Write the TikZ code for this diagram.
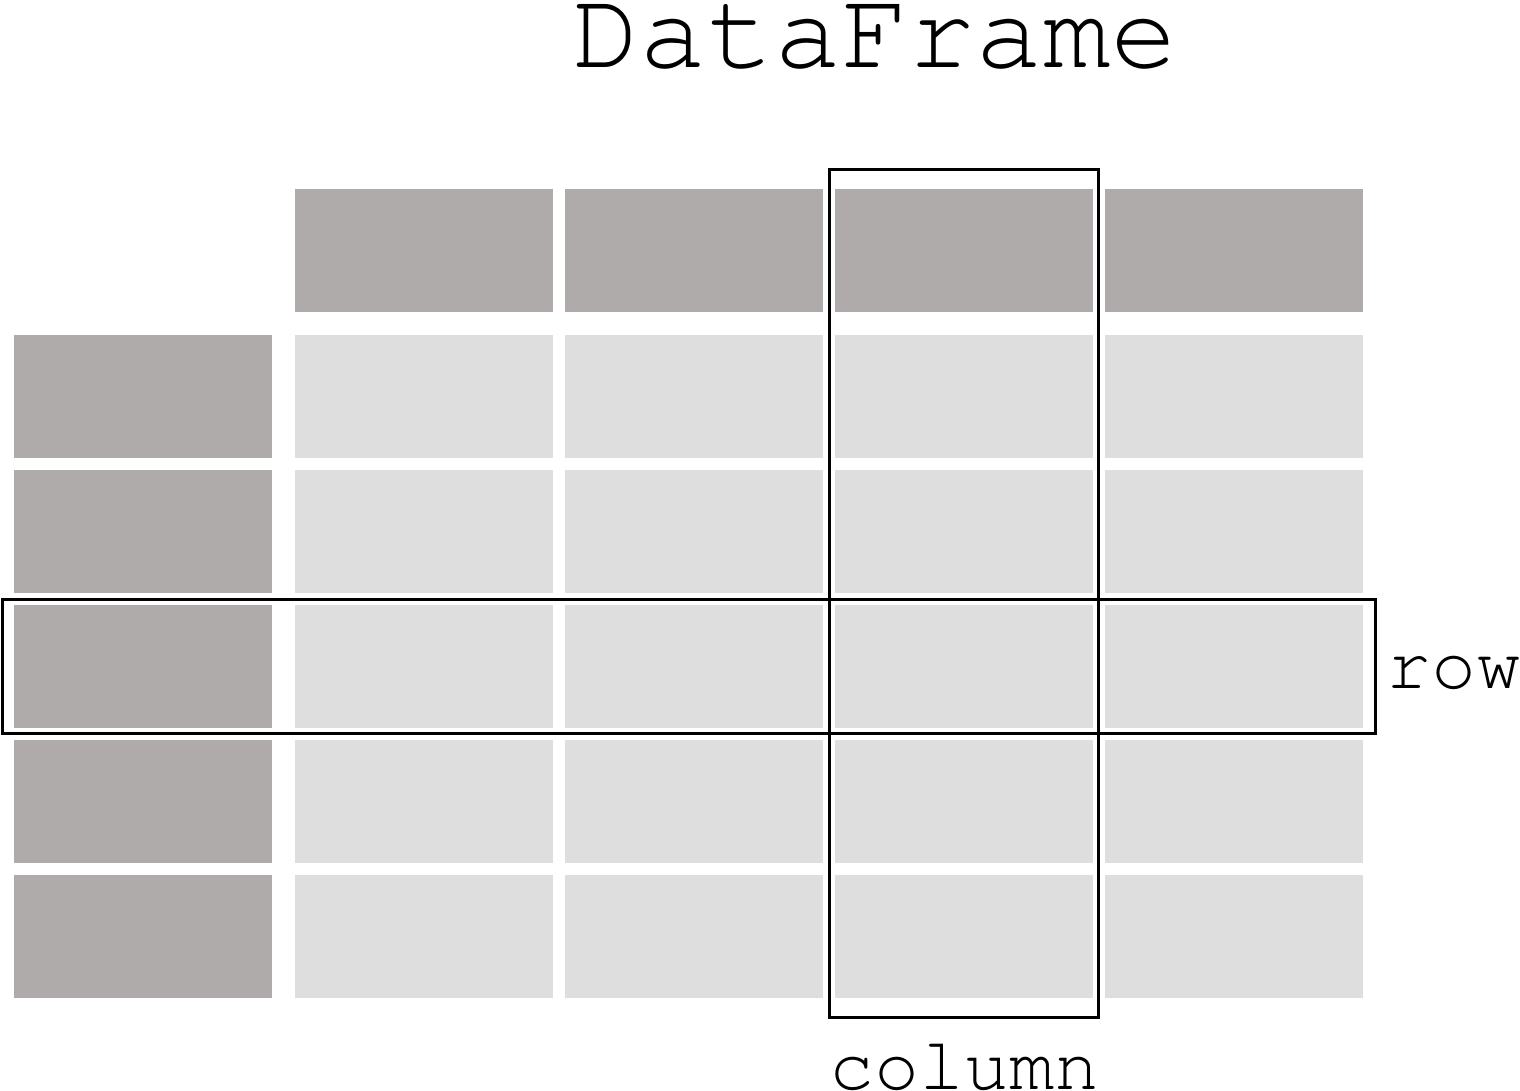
\documentclass[tikz,border=0pt]{standalone}
\usepackage{fontspec}
\setmonofont{TeX Gyre Cursor}
\definecolor{hdr}{RGB}{175,171,170}
\definecolor{cell}{RGB}{222,222,222}
\tikzset{
  base cell/.style={anchor=north west, inner sep=0pt, outer sep=0pt,
    minimum width=258pt, minimum height=123pt},
  hdrcell/.style={base cell, fill=hdr},
  datacell/.style={base cell, fill=cell},
  selbox/.style={draw=black, line width=3pt},
  lbl/.style={font=\ttfamily, inner sep=0pt, text=black}
}
\begin{document}
\begin{tikzpicture}[x=1pt,y=-1pt]
\useasboundingbox (0,0) rectangle (1520,1091);
% column headers
\foreach \c/\x in {1/295,2/565,3/835,4/1105}
  \node[hdrcell] (h\c) at (\x,189) {};
% rows
\foreach \r/\y in {1/335,2/470,3/605,4/740,5/875}{
  \node[hdrcell] (i\r) at (14,\y) {};
  \foreach \c/\x in {1/295,2/565,3/835,4/1105}
    \node[datacell] (d\r\c) at (\x,\y) {};
}
% selection boxes
\draw[selbox] (829.5,169.5) rectangle (1098.5,1017.5);
\draw[selbox] (2.5,599.5) rectangle (1375.5,733.5);
% labels
\node[lbl, anchor=base, font=\fontsize{112}{112}\selectfont\ttfamily] (title) at (875,68) {DataFrame};
\node[lbl, anchor=base, font=\fontsize{75}{75}\selectfont\ttfamily] (row) at (1454,688) {row};
\node[lbl, anchor=base, font=\fontsize{75}{75}\selectfont\ttfamily] (col) at (964,1089) {column};
\end{tikzpicture}
\end{document}
